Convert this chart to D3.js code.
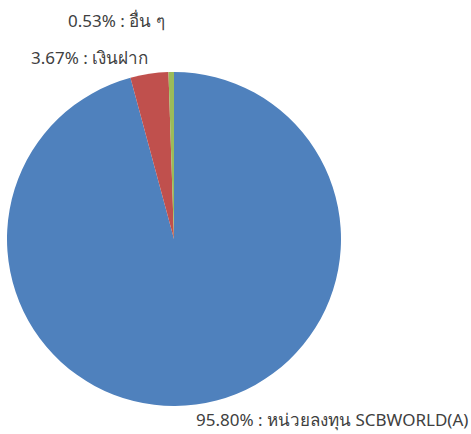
<!DOCTYPE html>
<html>
<head>
<meta charset="utf-8">
<script src="https://cdn.jsdelivr.net/npm/d3@7"></script>
<style>
  body { margin: 0; background: #fff; }
  text { font-family: "Noto Sans", "DejaVu Sans", sans-serif; fill: #404040; }
</style>
</head>
<body>
<svg id="chart" width="471" height="434"></svg>
<script>
var categories = ["หน่วยลงทุน SCBWORLD(A)", "เงินฝาก", "อื่น ๆ"];
var values = [95.80, 3.67, 0.53];
var colors = ["#4F81BD", "#C0504D", "#9BBB59"];

var svg = d3.select("#chart"),
  cx = 174, cy = 239, r = 167;

var pie = d3.pie().sort(null).value(function (d) { return d; });
var arc = d3.arc().innerRadius(0).outerRadius(r);

var g = svg.append("g").attr("transform", "translate(" + cx + "," + cy + ")");

g.selectAll("path")
  .data(pie(values))
  .enter().append("path")
  .attr("d", arc)
  .attr("fill", function (d, i) { return colors[i]; });

// label anchors (left x, baseline y)
var labelPos = [[196, 426], [31, 64], [68, 27]];

svg.selectAll("text.lbl")
  .data(values)
  .enter().append("text")
  .attr("class", "lbl")
  .attr("x", function (d, i) { return labelPos[i][0]; })
  .attr("y", function (d, i) { return labelPos[i][1]; })
  .attr("font-size", 17)
  .text(function (d, i) { return d.toFixed(2) + "% : " + categories[i]; });
</script>
</body>
</html>
